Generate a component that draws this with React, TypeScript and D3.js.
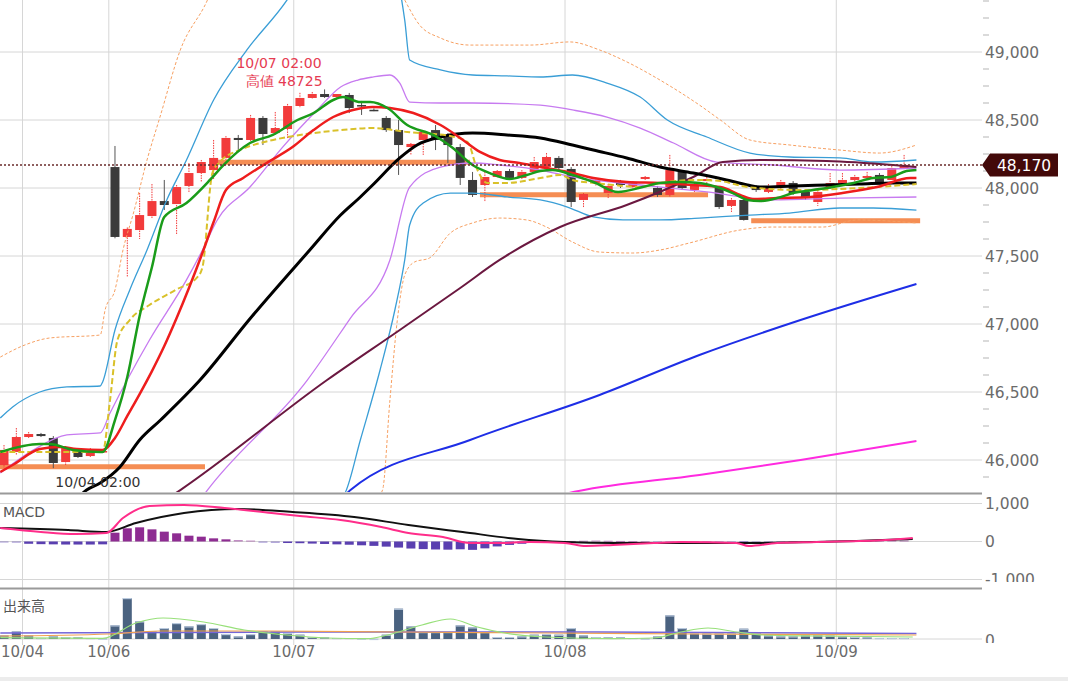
import React from 'react';
import * as d3 from 'd3';

type Pt = [number, number];

// day labels sit on the boundary between two candles
const dayLabels = ['10/04', '10/06', '10/07', '10/08', '10/09'];
const dayBounds = [1.5, 8.5, 23.5, 45.5, 67.5];

const opens = [45963, 46059, 46169, 46191, 46162, 45985, 46059, 46029, 46059,
  48154, 47640, 47691, 47794, 47904, 47882, 48015, 48110, 48132, 48221, 48368, 48353, 48515, 48404, 48434,
  48603, 48662, 48691, 48669, 48684, 48610, 48575, 48515, 48426, 48301, 48353, 48426, 48390, 48301, 48059, 48022, 48081, 48125, 48074, 48118, 48154, 48221, 48140, 47912,
  48037, 47963, 48044, 48007, 48066, 48000, 47949, 48118, 47985, 48051, 48000, 47868, 47912, 48007, 47971, 48007, 48037, 47971, 47897, 48007, 48037, 48059, 48074, 48096, 48059, 48147];
const highs = [46110, 46235, 46206, 46199, 46176, 46103, 46074, 46088, 46081,
  48309, 47710, 47963, 48029, 48059, 48022, 48184, 48206, 48353, 48382, 48390, 48537, 48529, 48559, 48618,
  48700, 48706, 48725, 48691, 48699, 48640, 48585, 48529, 48500, 48331, 48419, 48463, 48404, 48324, 48118, 48118, 48132, 48140, 48132, 48228, 48257, 48235, 48154, 47963,
  48074, 48029, 48059, 48051, 48088, 48015, 48243, 48132, 48037, 48081, 48015, 47926, 47926, 48022, 48029, 48059, 48051, 47985, 47985, 48110, 48110, 48096, 48118, 48110, 48162, 48243];
const lows = [45941, 46037, 46162, 46169, 45940, 45963, 46015, 46022, 46051,
  47630, 47346, 47625, 47779, 47838, 47654, 47963, 48044, 48066, 48206, 48265, 48346, 48316, 48390, 48360,
  48588, 48654, 48662, 48654, 48551, 48537, 48565, 48412, 48096, 48243, 48243, 48279, 48184, 48022, 47934, 47897, 48074, 48066, 48059, 48110, 48147, 48132, 47860, 47860,
  48015, 47926, 48000, 47993, 48059, 47934, 47934, 47985, 47971, 48037, 47846, 47824, 47760, 47971, 47956, 47993, 47949, 47912, 47868, 47993, 48022, 48044, 48059, 48029, 48044, 48132];
const closes = [46074, 46169, 46191, 46176, 45978, 46088, 46022, 46066, 46066,
  47640, 47699, 47801, 47904, 47875, 48007, 48110, 48191, 48221, 48368, 48353, 48515, 48397, 48441, 48603,
  48662, 48691, 48669, 48691, 48588, 48600, 48570, 48426, 48316, 48324, 48412, 48353, 48316, 48074, 47949, 48081, 48125, 48074, 48118, 48191, 48228, 48147, 47897, 47956,
  48059, 48015, 48022, 48044, 48081, 47949, 48132, 48000, 48022, 48066, 47860, 47912, 47765, 47985, 48015, 48044, 47963, 47926, 47971, 48037, 48059, 48081, 48088, 48044, 48147, 48170];

const volumes = [367, 767, 367, 100, 267, 200, 167, 100, 33,
  1367, 4100, 1767, 767, 1100, 1600, 1267, 1500, 1100, 500, 267, 500, 767, 767, 600,
  433, 200, 167, 100, 100, 33, 10, 433, 3033, 1267, 700, 700, 700, 1367, 1167, 700, 200, 200, 267, 433, 500, 433, 1100, 367,
  200, 167, 167, 100, 33, 267, 2367, 1100, 600, 533, 533, 533, 1033, 600, 367, 267, 267, 367, 367, 333, 267, 200, 167, 100, 100, 100];

const macdHist = [-20, -30, -60, -70, -75, -80, -80, -80, -75,
  232, 347, 373, 320, 259, 215, 153, 127, 83, 57, 39, 25, -30, -35, -40,
  -45, -55, -65, -75, -85, -100, -115, -135, -160, -185, -200, -210, -215, -205, -220, -180, -130, -90, -60, -35, -15, 10, 15, 20,
  25, 20, 15, 10, 5, -5, -10, -15, -20, -20, -25, -30, -40, -30, -20, -10, 5, 10, 15, 20, 20, 25, 20, 25, 30, 30];

const lastPrice = 48170;
const highLabel = ['10/07 02:00', '高値 48725'];
const highIndex = 26;
const lowLabel = '10/04 02:00';
const lowIndex = 4;

const priceTicks = [46000, 46500, 47000, 47500, 48000, 48500, 49000];
const macdTicks = [1000, 0, -1000];

// support / resistance levels with start and end index
const levels = [45950, 48190, 47950, 47760];
const levelFrom = [-0.4, 17, 38.6, 60.6];
const levelTo = [16.3, 37.8, 57.1, 74.3];

// overlay lines, [candle index, price]
const maGreen: Pt[] = [[-0.3, 46059], [2.9, 46118], [3.7, 46118], [5.6, 46074], [7.8, 46059], [8, 46059], [9, 46294], [10, 46610], [11, 47059], [12, 47419], [13, 47787], [14.8, 47890], [16.7, 48059], [17.8, 48169], [19.95, 48331], [21.8, 48390], [23.8, 48500], [25.1, 48551], [26.7, 48647], [27.5, 48669], [28.9, 48632], [29.7, 48632], [31.1, 48588], [32.7, 48463], [34.8, 48390], [36.4, 48294], [38, 48169], [39.4, 48110], [41, 48066], [42.4, 48096], [43.5, 48125], [44.5, 48132], [46.1, 48096], [47.8, 48044], [49.8, 47971], [51.8, 48007], [53.2, 48037], [54.8, 48044], [56.4, 48037], [57.8, 48007], [59.1, 47963], [60.3, 47912], [61.3, 47904], [62.7, 47926], [64, 47963], [65.6, 47985], [67.2, 48007], [68.9, 48037], [70.5, 48074], [71.9, 48081], [73.2, 48125], [74, 48132]];
const maRed: Pt[] = [[-0.3, 45912], [0.7, 45963], [2.9, 46081], [4.5, 46096], [5.9, 46081], [8, 46074], [9, 46162], [10, 46324], [11, 46485], [12, 46654], [13, 46838], [14, 47044], [15, 47265], [16, 47500], [17, 47750], [18, 47985], [19.4, 48074], [21.3, 48184], [23.4, 48301], [25.1, 48426], [26.7, 48522], [28.3, 48574], [29.9, 48596], [31.3, 48588], [33.2, 48551], [35.4, 48463], [37, 48368], [38.6, 48265], [40.2, 48206], [41.8, 48184], [43.5, 48154], [45.7, 48118], [47.8, 48074], [50.5, 48044], [53.2, 48037], [55.9, 48022], [58.1, 48007], [59.7, 47949], [60.7, 47919], [62.7, 47926], [65.4, 47934], [68, 47963], [70.8, 48007], [73.5, 48074], [74, 48074]];
const maBlack: Pt[] = [[5.4, 45669], [6.7, 45779], [7.8, 45831], [9.4, 45949], [11, 46147], [12.7, 46294], [15.9, 46588], [20, 47044], [24.8, 47544], [27.3, 47801], [28.9, 47934], [29.9, 48022], [32.1, 48221], [33.5, 48316], [35.4, 48375], [38, 48404], [40.8, 48390], [43.5, 48368], [46.1, 48316], [47.8, 48279], [50.5, 48221], [53.2, 48154], [55.9, 48110], [58.6, 48059], [60.3, 48022], [61.3, 48007], [64, 48015], [66.7, 48022], [69.4, 48029], [72.1, 48037], [74, 48037]];
const maMaroon: Pt[] = [[13.1, 45706], [14.3, 45779], [26.2, 46588], [32.1, 46956], [37, 47265], [40.2, 47471], [45.1, 47713], [50.5, 47875], [55.9, 48081], [58.3, 48191], [61.3, 48206], [66.7, 48199], [72.1, 48169], [74, 48154]];
const maBlue: Pt[] = [[27.3, 45706], [28.1, 45779], [37.8, 46147], [48.3, 46478], [56.4, 46772], [64.6, 47029], [74, 47294]];
const maMagenta: Pt[] = [[45.1, 45743], [46.6, 45772], [56.4, 45890], [64.6, 46000], [74, 46140]];
const midYellow: Pt[] = [[-0.3, 46059], [8, 46059], [8.6, 46441], [9.2, 46882], [10.2, 47029], [11.8, 47140], [13.9, 47250], [15.7, 47346], [16.1, 47419], [16.9, 48110], [17.5, 48191], [19.1, 48279], [20.8, 48331], [23, 48375], [25.1, 48404], [27.3, 48426], [29.9, 48441], [32.7, 48412], [36.2, 48382], [37.6, 48338], [38.4, 48132], [39.2, 48037], [40.8, 48037], [43.5, 48074], [45.1, 48096], [46.1, 48059], [47.8, 48037], [49.4, 48022], [51.6, 48007], [53.2, 48037], [56.4, 48059], [58.1, 48051], [60.3, 48007], [64.6, 47985], [69.4, 48000], [74, 48029]];
const bandCyanUp: Pt[] = [[-0.3, 46309], [0.7, 46390], [2.9, 46500], [5.1, 46537], [7.8, 46544], [8, 46574], [9, 46956], [10.2, 47250], [11.6, 47544], [13.2, 47912], [14.8, 48206], [17, 48647], [19.7, 49015], [22.95, 49382], [24, 49529], [26.4, 49750], [29.7, 49750], [31.9, 49529], [32.5, 49235], [32.9, 48941], [35.4, 48868], [38, 48831], [40.8, 48824], [43.5, 48816], [46.1, 48831], [48.9, 48772], [51.6, 48669], [53.8, 48500], [57, 48375], [60.5, 48257], [63.7, 48228], [67.8, 48221], [70.5, 48191], [74, 48206]];
const bandCyanDn: Pt[] = [[27.3, 45706], [27.7, 45765], [28.9, 46147], [30.5, 46662], [31.7, 47103], [32.5, 47471], [32.9, 47728], [34, 47890], [36.2, 47963], [38, 47963], [40.8, 47934], [43.5, 47912], [45.7, 47860], [47.8, 47787], [50.2, 47765], [53.2, 47765], [56.4, 47779], [60.5, 47801], [63.7, 47816], [67.8, 47853], [70.5, 47853], [74, 47838]];
const bandVioletUp: Pt[] = [[-0.3, 45904], [2.4, 46074], [5.1, 46184], [7.8, 46199], [8.6, 46346], [11.8, 46882], [14.8, 47324], [16.1, 47544], [17.3, 47765], [19.95, 48007], [22.6, 48301], [25.4, 48574], [27.3, 48743], [28.7, 48794], [29.9, 48816], [31.3, 48831], [32.1, 48772], [32.9, 48632], [35.4, 48625], [38, 48625], [43.5, 48610], [46.1, 48574], [48.9, 48522], [51.6, 48441], [54.3, 48331], [57.8, 48191], [62.4, 48169], [67.8, 48132], [74, 48147]];
const bandVioletDn: Pt[] = [[15.9, 45706], [16.5, 45779], [24.6, 46588], [28.1, 47044], [31.3, 47471], [32.9, 48007], [35.4, 48154], [38, 48184], [40.2, 48169], [43.5, 48132], [46.1, 48081], [51.6, 48022], [57, 47971], [62.4, 47912], [67.8, 47926], [74, 47934]];
const bandOrangeUp: Pt[] = [[-0.3, 46757], [1.7, 46846], [3.7, 46897], [7.8, 46919], [8.2, 47103], [9, 47250], [9.65, 47544], [10.5, 47816], [11.6, 48206], [12.65, 48522], [14.3, 49015], [16.5, 49382], [17.5, 49603], [31.3, 49603], [32.5, 49382], [33.7, 49199], [35.4, 49103], [37.8, 49051], [42.7, 49051], [45.9, 49074], [48.3, 49015], [50.2, 48941], [53.2, 48794], [56.4, 48610], [58.1, 48500], [60.5, 48353], [63.75, 48316], [67.8, 48279], [71, 48257], [74, 48316]];
const bandOrangeDn: Pt[] = [[30.1, 45706], [30.7, 45779], [31.3, 46441], [31.9, 47029], [32.5, 47360], [33.3, 47456], [34.5, 47485], [36.2, 47669], [38, 47743], [40.2, 47779], [42.4, 47765], [44, 47713], [46.1, 47603], [48.3, 47529], [51, 47522], [53.2, 47544], [55.6, 47596], [59.7, 47691], [62.4, 47713], [66.4, 47713], [69.2, 47765], [74, 47743]];

const macdLine: Pt[] = [[-0.3, 355], [3, 250], [5.8, 197], [8.3, 224], [9.65, 618], [11.8, 934], [14.6, 960], [17.9, 881], [21.7, 750], [24, 671], [27.3, 566], [30.6, 381], [32.8, 224], [35.6, 118], [37.8, -39], [40, -39], [42.7, -13], [45.5, -39], [47.2, -118], [49.4, -92], [52.7, -39], [54.9, -13], [59.4, -39], [60.4, -118], [62.7, -39], [65.9, -13], [71.5, 39], [73.7, 92]];
const signalLine: Pt[] = [[-0.3, 355], [5.2, 302], [8.3, 250], [10.7, 487], [14.6, 750], [19, 855], [23.4, 776], [28.4, 645], [32.8, 434], [37.2, 250], [41.7, 66], [45.5, -13], [49.4, -39], [54.9, -39], [60.4, -39], [65.9, -13], [73.7, 66]];

const volMaShort: Pt[] = [[-0.3, 130], [8, 70], [10.7, 1600], [12.9, 2100], [16.2, 1700], [19.5, 900], [22.9, 400], [26.2, 100], [29.5, 30], [31.1, 400], [33.9, 1400], [36.2, 2000], [38.4, 1200], [40.6, 600], [43.9, 200], [49.4, 30], [52.7, 100], [54.9, 700], [57.1, 1100], [59.4, 700], [61.6, 400], [65.9, 300], [73.7, 200]];
const volMaMid: Pt[] = [[-0.3, 300], [8.5, 500], [12.6, 800], [21.7, 800], [32, 700], [44, 600], [56.5, 500], [74, 400]];
const volMaLong: Pt[] = [[-0.3, 600], [24, 700], [48, 700], [74, 550]];

const W = 1068;
const H = 681;
const gridRight = 982;
const font = '"DejaVu Sans", Verdana, sans-serif';

const x = d3.scaleLinear().domain([0, 73]).range([4, 904.1]);
const yPrice = d3.scaleLinear().domain([46000, 49000]).range([460, 52]);
const yMacd = d3.scaleLinear().domain([-1000, 1000]).range([579.5, 503.5]);
const yVol = d3.scaleLinear().domain([0, 5000]).range([639, 589]);

const priceLine = d3.line<Pt>().x(d => x(d[0])).y(d => yPrice(d[1])).curve(d3.curveMonotoneX);
const macdPath = d3.line<Pt>().x(d => x(d[0])).y(d => yMacd(d[1])).curve(d3.curveMonotoneX);
const volPath = d3.line<Pt>().x(d => x(d[0])).y(d => yVol(d[1])).curve(d3.curveMonotoneX);
// plain hyphen for negatives, as on the original axis
const fmt = (v: number) => d3.format(',')(v).replace('\u2212', '-');

const App: React.FC = () => {
  const bodyW = 9;
  const minorTicks = d3.range(45875, 49500, 125).filter(v => v % 500 !== 0);

  return (
    <div style={{ position: 'absolute', left: 0, top: 0 }}>
      <svg width={W} height={H} style={{ display: 'block', background: '#fff' }}>
        <defs>
          <clipPath id="mainClip"><rect x={0} y={0} width={gridRight} height={492} /></clipPath>
          <clipPath id="macdClip"><rect x={0} y={495} width={gridRight} height={92} /></clipPath>
          <clipPath id="volClip"><rect x={0} y={590} width={gridRight} height={55} /></clipPath>
          <clipPath id="macdAxisClip"><rect x={gridRight} y={495} width={90} height={87} /></clipPath>
          <clipPath id="volAxisClip"><rect x={gridRight} y={590} width={90} height={53} /></clipPath>
        </defs>

        {/* vertical day grid */}
        {dayBounds.map((b, i) => (
          <line key={'vg' + i} x1={x(b)} x2={x(b)} y1={0} y2={645} stroke="#d6d6d6" strokeWidth={1} />
        ))}

        {/* price grid + axis */}
        {priceTicks.map(t => (
          <g key={'pt' + t}>
            <line x1={0} x2={gridRight} y1={yPrice(t)} y2={yPrice(t)} stroke="#d6d6d6" strokeWidth={1} />
            <text x={985} y={yPrice(t) + 5.5} fontFamily={font} fontSize={15.5} fill="#6b6b6b">{fmt(t)}</text>
          </g>
        ))}
        {minorTicks.map(t => (
          <line key={'mt' + t} x1={983} x2={989} y1={yPrice(t)} y2={yPrice(t)} stroke="#b5b5b5" strokeWidth={1} />
        ))}

        <g clipPath="url(#mainClip)">
          {levels.map((lv, i) => (
            <line key={'lv' + i} x1={x(levelFrom[i])} x2={x(levelTo[i])} y1={yPrice(lv)} y2={yPrice(lv)}
              stroke="#f5874a" strokeWidth={5} opacity={0.95} />
          ))}

          {closes.map((c, i) => {
            const o = opens[i];
            const up = c >= o;
            const cx = x(i);
            const top = yPrice(Math.max(o, c));
            const h = Math.max(1.5, yPrice(Math.min(o, c)) - top);
            const col = up ? '#f23b3b' : '#3b3b3b';
            return (
              <g key={'c' + i}>
                <line x1={cx} x2={cx} y1={yPrice(highs[i])} y2={yPrice(lows[i])}
                  stroke={up ? '#f23b3b' : '#555'} strokeWidth={1}
                  strokeDasharray={up ? '1.5 1' : undefined} />
                <rect x={cx - bodyW / 2} y={top} width={bodyW} height={h} fill={col} />
              </g>
            );
          })}

          <path d={priceLine(bandOrangeUp)!} fill="none" stroke="#f7a062" strokeWidth={1} strokeDasharray="3 2" />
          <path d={priceLine(bandOrangeDn)!} fill="none" stroke="#f7a062" strokeWidth={1} strokeDasharray="3 2" />
          <path d={priceLine(bandCyanUp)!} fill="none" stroke="#3a9ed6" strokeWidth={1.3} />
          <path d={priceLine(bandCyanDn)!} fill="none" stroke="#3a9ed6" strokeWidth={1.3} />
          <path d={priceLine(bandVioletUp)!} fill="none" stroke="#c77bf0" strokeWidth={1.3} />
          <path d={priceLine(bandVioletDn)!} fill="none" stroke="#c77bf0" strokeWidth={1.3} />
          <path d={priceLine(maMagenta)!} fill="none" stroke="#ff2ae0" strokeWidth={2} />
          <path d={priceLine(maBlue)!} fill="none" stroke="#1e2ee6" strokeWidth={2} />
          <path d={priceLine(maMaroon)!} fill="none" stroke="#6b1840" strokeWidth={2} />
          <path d={priceLine(maBlack)!} fill="none" stroke="#000" strokeWidth={3} />
          <path d={priceLine(midYellow)!} fill="none" stroke="#d9c12a" strokeWidth={2} strokeDasharray="6 3" />
          <path d={priceLine(maRed)!} fill="none" stroke="#ee1d1d" strokeWidth={2.5} />
          <path d={priceLine(maGreen)!} fill="none" stroke="#1a9c1a" strokeWidth={2.5} />

          <text x={x(highIndex) - 3} y={68} textAnchor="end" fontFamily={font} fontSize={14} fill="#e63b52">{highLabel[0]}</text>
          <text x={x(highIndex) - 2} y={86} textAnchor="end" fontFamily={font} fontSize={14} fill="#e63b52">{highLabel[1]}</text>
          <text x={x(lowIndex) + 2} y={487} fontFamily={font} fontSize={14} fill="#333">{lowLabel}</text>
        </g>

        {/* last price */}
        <line x1={0} x2={gridRight} y1={yPrice(lastPrice)} y2={yPrice(lastPrice)} stroke="#6a2a2a" strokeWidth={1.5} strokeDasharray="2 2" />
        <path d={`M${gridRight},${yPrice(lastPrice)} L990,${yPrice(lastPrice) - 11.5} L1058,${yPrice(lastPrice) - 11.5} L1058,${yPrice(lastPrice) + 11.5} L990,${yPrice(lastPrice) + 11.5} Z`} fill="#430909" />
        <text x={1024} y={yPrice(lastPrice) + 6} textAnchor="middle" fontFamily={font} fontSize={15.5} fill="#fff">{fmt(lastPrice)}</text>

        {/* panel separators */}
        <line x1={0} x2={gridRight} y1={493.5} y2={493.5} stroke="#9a9a9a" strokeWidth={2} />
        <line x1={0} x2={gridRight} y1={588.5} y2={588.5} stroke="#9a9a9a" strokeWidth={2} />

        {/* MACD panel */}
        {macdTicks.map(t => (
          <line key={'mg' + t} x1={0} x2={gridRight} y1={yMacd(t)} y2={yMacd(t)} stroke="#d6d6d6" strokeWidth={1} />
        ))}
        <g clipPath="url(#macdAxisClip)">
          {macdTicks.map(t => (
            <text key={'ml' + t} x={985} y={yMacd(t) + 5.5} fontFamily={font} fontSize={15.5} fill="#6b6b6b">{fmt(t)}</text>
          ))}
        </g>
        <g clipPath="url(#macdClip)">
          {macdHist.map((v, i) => (
            <rect key={'h' + i} x={x(i) - bodyW / 2} width={bodyW}
              y={Math.min(yMacd(v), yMacd(0))} height={Math.max(1, Math.abs(yMacd(v) - yMacd(0)))}
              fill={v >= 0 ? '#8e2c92' : '#5a3fb0'} opacity={Math.abs(v) < 40 ? 0.55 : 1} />
          ))}
          <path d={macdPath(signalLine)!} fill="none" stroke="#111" strokeWidth={2} />
          <path d={macdPath(macdLine)!} fill="none" stroke="#ff2d8a" strokeWidth={2} />
        </g>
        <text x={3} y={517} fontFamily={font} fontSize={14} fill="#555">MACD</text>

        {/* volume panel */}
        <line x1={0} x2={gridRight} y1={yVol(0)} y2={yVol(0)} stroke="#d6d6d6" strokeWidth={1} />
        <g clipPath="url(#volAxisClip)">
          <text x={985} y={yVol(0) + 7} fontFamily={font} fontSize={15.5} fill="#6b6b6b">0</text>
        </g>
        <g clipPath="url(#volClip)">
          {volumes.map((v, i) => (
            <g key={'v' + i}>
              <rect x={x(i) - bodyW / 2} y={yVol(v)} width={bodyW} height={yVol(0) - yVol(v)} fill="#4a6280" />
              <rect x={x(i) - bodyW / 2} y={yVol(v)} width={bodyW} height={1.2} fill="#b9c9dd" />
            </g>
          ))}
          <path d={volPath(volMaLong)!} fill="none" stroke="#7466d8" strokeWidth={1.5} />
          <path d={volPath(volMaMid)!} fill="none" stroke="#f2a24e" strokeWidth={1.2} />
          <path d={volPath(volMaShort)!} fill="none" stroke="#98e07a" strokeWidth={1.2} />
        </g>
        <text x={3} y={611} fontFamily='"Noto Sans CJK JP", sans-serif' fontSize={14} fill="#555">出来高</text>

        {/* date labels */}
        {dayLabels.map((d, i) => (
          <text key={'d' + i} x={x(dayBounds[i])} y={657} textAnchor="middle" fontFamily={font} fontSize={15} fill="#6b6b6b">{d}</text>
        ))}

        <rect x={0} y={677} width={W} height={4} fill="#ececec" />
      </svg>
    </div>
  );
};

export default App;
